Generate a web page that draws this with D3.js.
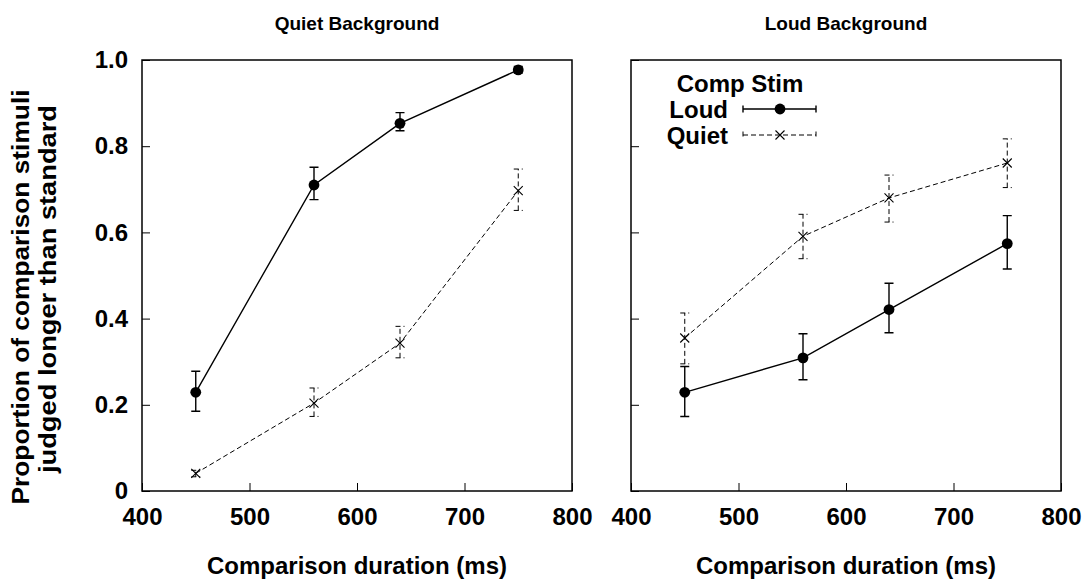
<!DOCTYPE html>
<html>
<head>
<meta charset="utf-8">
<script src="https://cdn.jsdelivr.net/npm/d3@7/dist/d3.min.js"></script>
<style>
  body { margin: 0; background: #fff; }
  text { font-family: "Liberation Sans", Arial, sans-serif; font-weight: bold; fill: #000; }
</style>
</head>
<body>
<div id="chart"></div>
<script>
// Comparison durations (ms)
const durations = [450, 560, 640, 750];
const panelTitles = ["Quiet Background", "Loud Background"];
const seriesNames = ["Loud", "Quiet"];
const xTickValues = [400, 500, 600, 700, 800];
const yTickValues = [0, 0.2, 0.4, 0.6, 0.8, 1.0];
const yTickLabels = ["0", "0.2", "0.4", "0.6", "0.8", "1.0"];

// Quiet background panel
const quietBgLoudMean = [0.229, 0.710, 0.853, 0.977];
const quietBgLoudLow  = [0.185, 0.676, 0.836, 0.970];
const quietBgLoudHigh = [0.278, 0.751, 0.878, 0.985];
const quietBgQuietMean = [0.041, 0.204, 0.343, 0.697];
const quietBgQuietLow  = [0.033, 0.173, 0.309, 0.651];
const quietBgQuietHigh = [0.048, 0.239, 0.382, 0.747];

// Loud background panel
const loudBgLoudMean = [0.229, 0.309, 0.421, 0.574];
const loudBgLoudLow  = [0.173, 0.258, 0.367, 0.515];
const loudBgLoudHigh = [0.289, 0.365, 0.482, 0.639];
const loudBgQuietMean = [0.355, 0.591, 0.680, 0.761];
const loudBgQuietLow  = [0.295, 0.539, 0.624, 0.704];
const loudBgQuietHigh = [0.413, 0.642, 0.733, 0.817];

const panels = [
    { title: panelTitles[0], series: [
        { name: seriesNames[0], mean: quietBgLoudMean, low: quietBgLoudLow, high: quietBgLoudHigh },
        { name: seriesNames[1], mean: quietBgQuietMean, low: quietBgQuietLow, high: quietBgQuietHigh }
    ]},
    { title: panelTitles[1], series: [
        { name: seriesNames[0], mean: loudBgLoudMean, low: loudBgLoudLow, high: loudBgLoudHigh },
        { name: seriesNames[1], mean: loudBgQuietMean, low: loudBgQuietLow, high: loudBgQuietHigh }
    ]}
];

const styles = {
    Loud:  { dash: null, width: 1.4 },
    Quiet: { dash: "5,3", width: 1 }
};

const W = 1092, H = 581;
const panelLefts = [142, 631];
const panelWidth = 430;
const plotTop = 60, plotBottom = 491;

const svg = d3.select("#chart").append("svg")
    .attr("width", W)
    .attr("height", H);

const y = d3.scaleLinear().domain([0, 1]).range([plotBottom, plotTop]);

function drawMarker(g, name, cx, cy) {
    if (name === "Loud") {
        g.append("circle").attr("cx", cx).attr("cy", cy).attr("r", 5.4).attr("fill", "#000");
    } else {
        const s = 4.5;
        g.append("path")
            .attr("d", `M${cx - s},${cy - s}L${cx + s},${cy + s}M${cx - s},${cy + s}L${cx + s},${cy - s}`)
            .attr("stroke", "#000").attr("stroke-width", 1.1).attr("fill", "none");
    }
}

panels.forEach((p, pi) => {
    const left = panelLefts[pi];
    const x = d3.scaleLinear().domain([400, 800]).range([left, left + panelWidth]);
    const g = svg.append("g");

    // x axis with inward ticks
    const xAxis = g.append("g")
        .attr("transform", `translate(0,${plotBottom})`)
        .call(d3.axisBottom(x).tickValues(xTickValues).tickSizeInner(-8).tickSizeOuter(0).tickPadding(17).tickFormat(d3.format("d")));
    xAxis.select(".domain").remove();
    xAxis.selectAll("line").attr("stroke", "#000").attr("stroke-width", 1);
    xAxis.selectAll("text").attr("font-size", "24px").attr("font-family", null);

    // y axis with inward ticks
    const yAxis = g.append("g")
        .attr("transform", `translate(${left},0)`)
        .call(d3.axisLeft(y).tickValues(yTickValues).tickSizeInner(-8).tickSizeOuter(0).tickPadding(14)
            .tickFormat((d, i) => pi === 0 ? yTickLabels[i] : ""));
    yAxis.select(".domain").remove();
    yAxis.selectAll("line").attr("stroke", "#000").attr("stroke-width", 1);
    yAxis.selectAll("text").attr("font-size", "24px").attr("font-family", null);

    // frame
    g.append("rect")
        .attr("x", left).attr("y", plotTop)
        .attr("width", panelWidth).attr("height", plotBottom - plotTop)
        .attr("fill", "none").attr("stroke", "#000").attr("stroke-width", 1.5);

    // panel title
    g.append("text")
        .attr("x", left + panelWidth / 2)
        .attr("y", 30)
        .attr("text-anchor", "middle")
        .attr("font-size", "19px")
        .text(p.title);

    // x axis title
    g.append("text")
        .attr("x", left + panelWidth / 2)
        .attr("y", 574)
        .attr("text-anchor", "middle")
        .attr("font-size", "24px")
        .text("Comparison duration (ms)");

    p.series.forEach(s => {
        const st = styles[s.name];
        const pts = durations.map((d, i) => ({ x: d, m: s.mean[i], lo: s.low[i], hi: s.high[i] }));

        g.append("path")
            .datum(pts)
            .attr("d", d3.line().x(d => x(d.x)).y(d => y(d.m)))
            .attr("fill", "none")
            .attr("stroke", "#000")
            .attr("stroke-width", st.width)
            .attr("stroke-dasharray", st.dash);

        pts.forEach(d => {
            const cx = x(d.x);
            const cap = 4.5;
            g.append("path")
                .attr("d", `M${cx},${y(d.lo)}L${cx},${y(d.hi)}M${cx - cap},${y(d.lo)}L${cx + cap},${y(d.lo)}M${cx - cap},${y(d.hi)}L${cx + cap},${y(d.hi)}`)
                .attr("fill", "none")
                .attr("stroke", "#000")
                .attr("stroke-width", st.width)
                .attr("stroke-dasharray", st.dash);
            drawMarker(g, s.name, cx, y(d.m));
        });
    });

    // legend in the right panel
    if (pi === 1) {
        const lg = g.append("g").attr("transform", `translate(${left},${plotTop})`);
        lg.append("text")
            .attr("x", 109).attr("y", 32)
            .attr("text-anchor", "middle")
            .attr("font-size", "24px")
            .text("Comp Stim");
        seriesNames.forEach((name, i) => {
            const st = styles[name];
            const ly = 49 + i * 26;
            lg.append("text")
                .attr("x", 97).attr("y", ly + 9)
                .attr("text-anchor", "end")
                .attr("font-size", "24px")
                .text(name);
            lg.append("path")
                .attr("d", `M112,${ly}L185,${ly}M112,${ly - 3.5}L112,${ly + 3.5}M185,${ly - 3.5}L185,${ly + 3.5}`)
                .attr("fill", "none")
                .attr("stroke", "#000")
                .attr("stroke-width", st.width)
                .attr("stroke-dasharray", st.dash);
            drawMarker(lg, name, 149, ly);
        });
    }
});

// y axis title, two lines
const yTitle = svg.append("text")
    .attr("transform", "translate(0,297) rotate(-90)")
    .attr("text-anchor", "middle")
    .attr("font-size", "24px");
yTitle.append("tspan").attr("x", 0).attr("y", 29)
    .attr("textLength", 415).attr("lengthAdjust", "spacingAndGlyphs")
    .text("Proportion of comparison stimuli");
yTitle.append("tspan").attr("x", 8).attr("y", 56)
    .attr("textLength", 368).attr("lengthAdjust", "spacingAndGlyphs")
    .text("judged longer than standard");
</script>
</body>
</html>
